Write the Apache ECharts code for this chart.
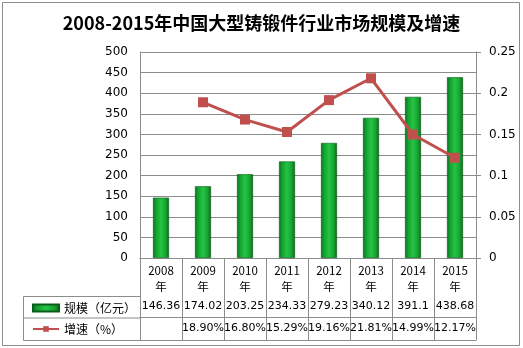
<!DOCTYPE html>
<html><head><meta charset="utf-8">
<script src="https://cdn.jsdelivr.net/npm/echarts@6/dist/echarts.min.js"></script>
<style>html,body{margin:0;padding:0;background:#fff}#c{width:523px;height:348px}</style>
</head><body><div id="c"></div>
<script>
const years = ['2008年','2009年','2010年','2011年','2012年','2013年','2014年','2015年'];
const scale = [146.36,174.02,203.25,234.33,279.23,340.12,391.1,438.68];
const growth = [null,0.1890,0.1680,0.1529,0.1916,0.2181,0.1499,0.1217];
const scaleLabels = ['146.36','174.02','203.25','234.33','279.23','340.12','391.1','438.68'];
const growthLabels = ['','18.90%','16.80%','15.29%','19.16%','21.81%','14.99%','12.17%'];
const leftTicks = [0,50,100,150,200,250,300,350,400,450,500];
const rightTicks = [0,0.05,0.1,0.15,0.2,0.25];

const FONT = '"Noto Sans CJK SC","DejaVu Sans",sans-serif';
const NUMF = '"DejaVu Sans",sans-serif';
const LINE = '#8c8c8c';
const chart = echarts.init(document.getElementById('c'), null, {renderer:'canvas'});
const barColor = {type:'linear',x:0,y:0,x2:1,y2:0,colorStops:[
  {offset:0,color:'#0b6b1c'},{offset:0.18,color:'#14a02e'},{offset:0.5,color:'#25c445'},
  {offset:0.82,color:'#14a02e'},{offset:1,color:'#0a5e18'}]};
const hiddenAxis = (data, offset, fmt) => ({
  type:'category', data:data, position:'bottom', offset:offset, gridIndex:0,
  axisLine:{show:true,lineStyle:{color:LINE,width:1}},
  axisTick:{show:false}, splitLine:{show:false},
  axisLabel:{show:fmt!==false, interval:0, margin:5, fontSize:11, fontFamily:NUMF, color:'#000'}
});
chart.setOption({
  animation:false,
  title:{text:'2008-2015年中国大型铸锻件行业市场规模及增速', left:'center', top:9,
    textStyle:{fontSize:18, fontWeight:'bold', fontFamily:FONT, color:'#000'}},
  grid:{left:140, right:47, top:52, bottom:90},
  legend:{orient:'vertical', left:27, top:297, itemGap:9, itemWidth:26, itemHeight:7,
    textStyle:{fontSize:12, fontFamily:FONT, color:'#000'},
    data:[{name:'规模（亿元）', icon:'rect'},{name:'增速（%）'}]},
  xAxis:[
    {type:'category', data:years, position:'bottom',
      axisLine:{show:true,lineStyle:{color:LINE}},
      axisTick:{show:true,length:82,lineStyle:{color:LINE}},
      axisLabel:{interval:0, margin:5, fontSize:11.5, lineHeight:16, fontFamily:FONT, color:'#000',
        formatter:v=>v.replace('年','\n年')}},
    hiddenAxis(scaleLabels, 38),
    hiddenAxis(growthLabels, 59.5),
    hiddenAxis(years, 82, false)
  ],
  yAxis:[
    {type:'value', min:0, max:500, interval:50,
      axisLine:{show:true,lineStyle:{color:LINE}}, axisTick:{show:false},
      splitLine:{lineStyle:{color:LINE,width:1}},
      axisLabel:{margin:12, fontSize:12, fontFamily:NUMF, color:'#000'}},
    {type:'value', min:0, max:0.25, interval:0.05, position:'right',
      axisLine:{show:true,lineStyle:{color:LINE}},
      axisTick:{show:true,length:5,lineStyle:{color:LINE}},
      splitLine:{show:false},
      axisLabel:{margin:13, fontSize:12, fontFamily:NUMF, color:'#000', formatter:v=>String(v)}}
  ],
  series:[
    {name:'规模（亿元）', type:'bar', data:scale, barWidth:16, xAxisIndex:0, yAxisIndex:0,
      itemStyle:{color:barColor, borderColor:'#0b5e1a', borderWidth:0.6}},
    {name:'增速（%）', type:'line', data:growth, xAxisIndex:0, yAxisIndex:1,
      symbol:'rect', symbolSize:10, lineStyle:{color:'#c0504d', width:3},
      itemStyle:{color:'#c0504d'}, z:5}
  ],
  graphic:[
    {type:'rect', shape:{x:2.5,y:2.5,width:517,height:343}, style:{fill:null, stroke:'#8c8c8c', lineWidth:1}, silent:true, z:-1},
    {type:'line', shape:{x1:23.5,y1:296.5,x2:140,y2:296.5}, style:{stroke:LINE,lineWidth:1}},
    {type:'line', shape:{x1:23.5,y1:318,x2:140,y2:318}, style:{stroke:LINE,lineWidth:1}},
    {type:'line', shape:{x1:23.5,y1:340.5,x2:140,y2:340.5}, style:{stroke:LINE,lineWidth:1}},
    {type:'line', shape:{x1:23.5,y1:296.5,x2:23.5,y2:340.5}, style:{stroke:LINE,lineWidth:1}}
  ]
});
</script></body></html>
